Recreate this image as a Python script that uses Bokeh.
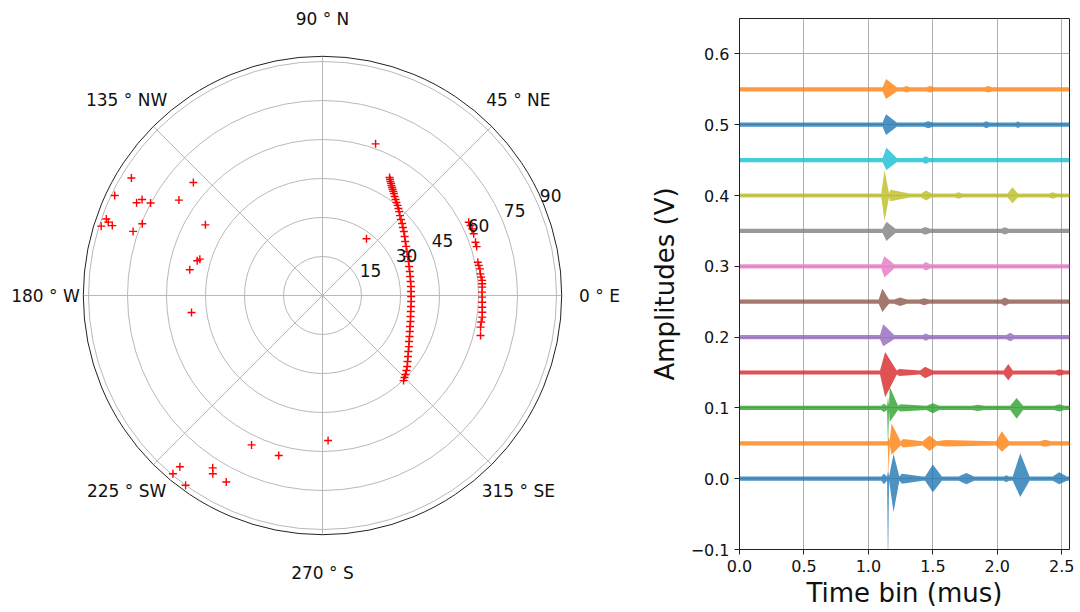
import math
from bokeh.plotting import figure
from bokeh.layouts import row
from bokeh.models import Range1d, FixedTicker, ColumnDataSource, LabelSet
from bokeh.core.properties import value
from bokeh.embed import file_html
from bokeh.resources import INLINE

# ---------------- polar panel data (azimuth deg from East, zenith deg) ----------------
inner_az = [60.4, 59.8, 59.2, 58.5, 57.9, 57.2, 56.5, 55.8, 55.0, 53.9, 52.7, 51.5, 50.2,
            48.9, 47.6, 45.9, 44.1, 42.1, 40.2, 38.2, 35.7, 33.1, 30.4, 27.5, 24.6, 21.6,
            18.5, 15.4, 12.2, 9.0, 5.8, 2.6, -0.6, -3.9, -7.1, -10.3, -13.4, -16.5, -19.5,
            -22.4, -25.2, -28.0, -30.6, -33.1, -35.5, -37.8, -40.0, -41.8, -43.6, -45.0, -46.4]
inner_zen = [52.2, 51.6, 51.0, 50.5, 49.9, 49.4, 48.9, 48.4, 47.9, 47.1, 46.4, 45.7, 45.1,
             44.4, 43.7, 42.8, 42.0, 41.3, 40.5, 39.8, 38.9, 38.0, 37.3, 36.6, 36.1, 35.6,
             35.1, 34.8, 34.5, 34.3, 34.2, 34.1, 34.1, 34.2, 34.3, 34.5, 34.8, 35.3, 35.7,
             36.3, 37.0, 37.7, 38.6, 39.4, 40.4, 41.4, 42.5, 43.3, 44.1, 44.6, 45.2]
outer_az = [26.6, 25.3, 24.0, 22.2, 19.2, 17.6, 12.1, 10.9, 9.6, 7.8, 6.6, 5.4, 4.2, 3.0,
            1.2, -0.6, -2.4, -4.2, -6.0, -7.7, -9.5, -11.3, -14.2]
outer_zen = [62.9, 63.0, 63.0, 62.8, 62.3, 62.2, 61.1, 61.2, 61.4, 61.3, 61.4, 61.7, 61.6,
             61.5, 61.4, 61.4, 61.5, 61.6, 61.8, 62.0, 61.9, 62.0, 62.7]
other_az = [70.7, 52.2, 148.4, 154.3, 153.5, 152.0, 151.7, 160.5, 161.1, 161.6, 162.6,
            158.3, 161.3, 138.8, 146.4, 148.9, 163.5, 164.5, 169.0, 187.4, 244.6, 254.7,
            272.2, 230.2, 230.0, 234.2, 237.5, 238.4, 242.7]
other_zen = [61.8, 27.6, 86.3, 88.7, 79.9, 78.6, 75.1, 88.2, 87.1, 85.2, 89.2, 74.6, 76.9,
             66.0, 66.3, 52.6, 49.2, 50.0, 52.0, 50.8, 63.6, 63.8, 55.8, 85.7, 89.5, 90.0,
             78.6, 80.5, 80.7]

ring_ticks = [15, 30, 45, 60, 75, 90]
ring_labels = ["15", "30", "45", "60", "75", "90"]
angle_ticks = [0, 45, 90, 135, 180, 225, 270, 315]
angle_labels = ["0 ° E", "45 ° NE", "90 ° N", "135 ° NW", "180 ° W", "225 ° SW",
                "270 ° S", "315 ° SE"]
R_MAX = 92

# ---------------- waveform panel data ----------------
offsets = [0.0, 0.05, 0.10, 0.15, 0.20, 0.25, 0.30, 0.35, 0.40, 0.45, 0.50, 0.55]
colors = ["#1f77b4", "#ff7f0e", "#2ca02c", "#d62728", "#9467bd", "#8c564b",
          "#e377c2", "#7f7f7f", "#bcbd22", "#17becf", "#1f77b4", "#ff7f0e"]
noise_level = 0.003
# bursts per trace: (t_start, t_peak, t_end, amp_up, amp_down)
bursts_0 = [(1.10, 1.12, 1.145, 0.007, 0.008), (1.145, 1.152, 1.16, 0.012, 0.13),
            (1.16, 1.195, 1.24, 0.035, 0.047), (1.24, 1.26, 1.42, 0.007, 0.007),
            (1.44, 1.50, 1.57, 0.020, 0.019), (1.70, 1.76, 1.82, 0.008, 0.008),
            (2.05, 2.07, 2.09, 0.005, 0.005), (2.12, 2.178, 2.25, 0.036, 0.026),
            (2.43, 2.48, 2.54, 0.009, 0.008)]
bursts_1 = [(1.15, 1.158, 1.165, 0.010, 0.046), (1.165, 1.18, 1.25, 0.028, 0.016),
            (1.25, 1.27, 1.42, 0.006, 0.006), (1.42, 1.475, 1.53, 0.011, 0.011),
            (1.53, 1.60, 1.98, 0.0045, 0.0045), (1.99, 2.035, 2.09, 0.017, 0.012),
            (2.33, 2.37, 2.42, 0.005, 0.005)]
bursts_2 = [(1.10, 1.12, 1.145, 0.006, 0.006), (1.145, 1.152, 1.16, 0.015, 0.055),
            (1.16, 1.165, 1.23, 0.030, 0.020), (1.23, 1.25, 1.45, 0.005, 0.005),
            (1.45, 1.50, 1.55, 0.0065, 0.0075), (1.80, 1.85, 1.90, 0.0045, 0.0045),
            (2.10, 2.15, 2.20, 0.014, 0.0155), (2.44, 2.48, 2.52, 0.005, 0.005)]
bursts_3 = [(1.09, 1.13, 1.22, 0.029, 0.035), (1.22, 1.24, 1.40, 0.005, 0.005),
            (1.40, 1.44, 1.50, 0.008, 0.008), (2.05, 2.085, 2.12, 0.012, 0.011),
            (2.45, 2.48, 2.52, 0.0045, 0.0045)]
bursts_4 = [(1.09, 1.115, 1.20, 0.018, 0.013), (1.42, 1.446, 1.47, 0.005, 0.005),
            (2.07, 2.10, 2.13, 0.006, 0.0057)]
bursts_5 = [(1.08, 1.108, 1.16, 0.0186, 0.0145), (1.20, 1.245, 1.30, 0.006, 0.006),
            (1.40, 1.43, 1.47, 0.005, 0.005), (2.03, 2.057, 2.09, 0.006, 0.006)]
bursts_6 = [(1.10, 1.124, 1.20, 0.0143, 0.0158), (1.42, 1.446, 1.48, 0.006, 0.006)]
bursts_7 = [(1.11, 1.14, 1.21, 0.0128, 0.0141), (1.41, 1.44, 1.48, 0.0055, 0.0055),
            (2.03, 2.057, 2.09, 0.005, 0.005)]
bursts_8 = [(1.10, 1.125, 1.16, 0.036, 0.036), (1.16, 1.17, 1.32, 0.008, 0.008),
            (1.41, 1.446, 1.49, 0.007, 0.007), (1.67, 1.70, 1.73, 0.0045, 0.0045),
            (2.08, 2.117, 2.16, 0.0118, 0.011), (2.40, 2.43, 2.46, 0.0045, 0.0045)]
bursts_9 = [(1.11, 1.14, 1.22, 0.0175, 0.014), (1.42, 1.446, 1.47, 0.0055, 0.0055)]
bursts_10 = [(1.11, 1.137, 1.22, 0.0147, 0.0146), (1.43, 1.464, 1.50, 0.005, 0.005),
             (1.89, 1.915, 1.94, 0.005, 0.005), (2.14, 2.16, 2.18, 0.0045, 0.0045)]
bursts_11 = [(1.11, 1.137, 1.22, 0.0146, 0.0136), (1.27, 1.297, 1.32, 0.0045, 0.0045),
             (1.45, 1.48, 1.51, 0.0045, 0.0045), (1.90, 1.93, 1.96, 0.0045, 0.0045)]
all_bursts = [bursts_0, bursts_1, bursts_2, bursts_3, bursts_4, bursts_5, bursts_6,
              bursts_7, bursts_8, bursts_9, bursts_10, bursts_11]
T_MIN, T_MAX = 0.0, 2.56
x_ticks = [0.0, 0.5, 1.0, 1.5, 2.0, 2.5]
y_ticks = [-0.1, 0.0, 0.1, 0.2, 0.3, 0.4, 0.5, 0.6]

FONT = "DejaVu Sans"
TXT = "#111111"
H = 612

# ---------------- polar panel (frame = whole panel) ----------------
PX = 2.6             # pixels per degree of zenith
W1 = 640
CX, CY = 322, 295    # centre of the polar plot inside the panel, px
p1 = figure(width=W1, height=H, output_backend="svg", toolbar_location=None,
            x_range=Range1d(-CX / PX, (W1 - CX) / PX),
            y_range=Range1d(-(H - CY) / PX, CY / PX), min_border=0)
p1.frame_align = False
p1.xaxis.visible = False
p1.yaxis.visible = False
p1.xgrid.visible = False
p1.ygrid.visible = False
p1.outline_line_color = None

GRID = "#b8b8b8"
p1.circle(x=[0] * len(ring_ticks), y=[0] * len(ring_ticks), radius=ring_ticks,
          fill_color=None, line_color=GRID, line_width=1)
p1.segment(x0=[0] * len(angle_ticks), y0=[0] * len(angle_ticks),
           x1=[R_MAX * math.cos(math.radians(a)) for a in angle_ticks],
           y1=[R_MAX * math.sin(math.radians(a)) for a in angle_ticks],
           line_color=GRID, line_width=1)
p1.circle(x=[0], y=[0], radius=[R_MAX], fill_color=None, line_color="#222222", line_width=1)

LAB_R = 277 / PX
ang_src = ColumnDataSource(dict(
    x=[LAB_R * math.cos(math.radians(a)) for a in angle_ticks],
    y=[LAB_R * math.sin(math.radians(a)) for a in angle_ticks],
    t=angle_labels))
p1.add_layout(LabelSet(x="x", y="y", text="t", source=ang_src, text_align="center",
                       text_baseline="middle", text_font=value(FONT),
                       text_font_size=value("17px"), text_color=TXT))
rad_src = ColumnDataSource(dict(
    x=[r * math.cos(math.radians(22.5)) for r in ring_ticks],
    y=[r * math.sin(math.radians(22.5)) for r in ring_ticks],
    t=ring_labels))
p1.add_layout(LabelSet(x="x", y="y", text="t", source=rad_src, text_align="center",
                       text_baseline="middle", x_offset=12, y_offset=10,
                       text_font=value(FONT), text_font_size=value("17px"),
                       text_color=TXT))

az_all = inner_az + outer_az + other_az
zen_all = inner_zen + outer_zen + other_zen
pts = ColumnDataSource(dict(
    x=[z * math.cos(math.radians(a)) for a, z in zip(az_all, zen_all)],
    y=[z * math.sin(math.radians(a)) for a, z in zip(az_all, zen_all)]))
p1.scatter("x", "y", source=pts, marker="cross", size=8, line_color="red", line_width=1.4)

# ---------------- waveform panel ----------------
W2 = 440
p2 = figure(width=W2, height=H, output_backend="svg", toolbar_location=None,
            x_range=Range1d(T_MIN, T_MAX), y_range=Range1d(-0.1, 0.65),
            min_border_left=99, min_border_right=11, min_border_top=18,
            min_border_bottom=63)
p2.frame_align = False
p2.outline_line_color = "#222222"
p2.outline_line_width = 1
p2.xgrid.grid_line_color = "#b0b0b0"
p2.ygrid.grid_line_color = "#b0b0b0"
p2.xgrid.grid_line_width = 1
p2.ygrid.grid_line_width = 1
p2.xaxis.ticker = FixedTicker(ticks=x_ticks)
p2.yaxis.ticker = FixedTicker(ticks=y_ticks)
p2.xaxis.major_label_overrides = {t: f"{t:.1f}" for t in x_ticks}
p2.yaxis.major_label_overrides = {t: f"{t:.1f}".replace("-", "\u2212") for t in y_ticks}
for ax in (p2.xaxis, p2.yaxis):
    ax.minor_tick_line_color = None
    ax.major_tick_in = 0
    ax.major_tick_out = 5
    ax.major_tick_line_color = "#222222"
    ax.axis_line_color = "#222222"
    ax.major_label_text_font = FONT
    ax.major_label_text_font_size = "16px"
    ax.major_label_text_color = TXT
    ax.axis_label_text_font = FONT
    ax.axis_label_text_font_size = "26px"
    ax.axis_label_text_font_style = "normal"
    ax.axis_label_text_color = TXT
    ax.major_label_standoff = 5
p2.xaxis.axis_label_standoff = 3
p2.yaxis.axis_label_standoff = 8
p2.xaxis.axis_label = "Time bin (mus)"
p2.yaxis.axis_label = "Amplitudes (V)"

for off, col, bursts in zip(offsets, colors, all_bursts):
    t = [T_MIN]
    up = [noise_level]
    dn = [noise_level]
    for (t0, tp, t1, a_up, a_dn) in bursts:
        t += [t0, tp, t1]
        up += [noise_level, a_up, noise_level]
        dn += [noise_level, a_dn, noise_level]
    t.append(T_MAX)
    up.append(noise_level)
    dn.append(noise_level)
    p2.varea(x=t, y1=[off - d for d in dn], y2=[off + u for u in up],
             fill_color=col, fill_alpha=0.8)

layout = row(p1, p2)
open("out.html", "w").write(file_html(layout, INLINE))
